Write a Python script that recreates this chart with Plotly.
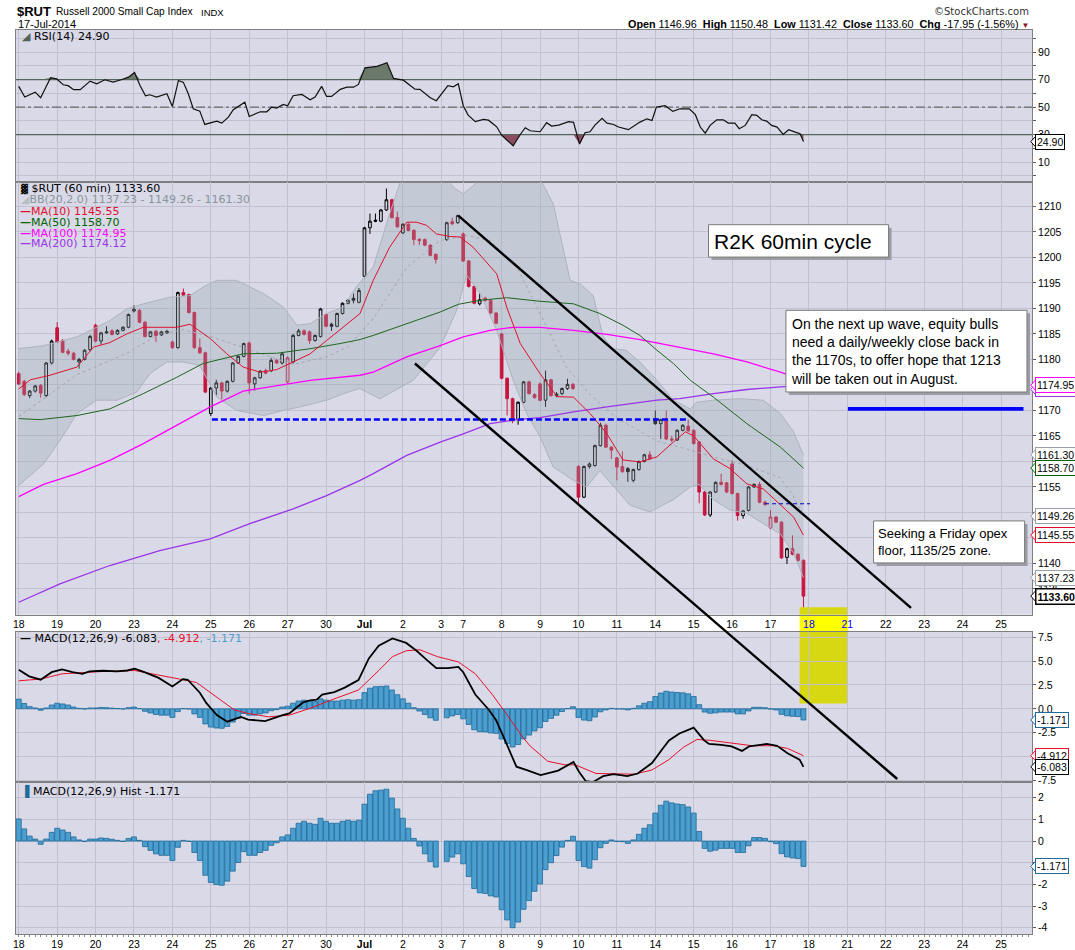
import numpy as np
import plotly.graph_objects as go

# ---------------------------------------------------------------- DATA
trade_days = ['18', '19', '20', '23', '24', '25', '26', '27', '30', 'Jul', '2', '3',
              '7', '8', '9', '10', '11', '14', '15', '16', '17']
bars_in_day = [7, 7, 7, 7, 7, 7, 7, 7, 7, 7, 7, 4, 7, 7, 7, 7, 7, 7, 7, 7, 7]
future_days = ['18', '21', '22', '23', '24', '25']

bar_open = [
    1177.2, 1175.7, 1172.9, 1173.8, 1174.9, 1172.9, 1179.3,
    1186.2, 1183.7, 1181.6, 1181.2, 1179.5, 1180.0, 1181.9,
    1186.7, 1183.6, 1185.2, 1185.6, 1185.0, 1185.7, 1186.3,
    1189.5, 1189.6, 1187.3, 1184.5, 1185.5, 1184.8, 1185.2,
    1183.4, 1182.3, 1193.1, 1192.7, 1189.2, 1182.3, 1181.3,
    1169.4, 1174.4, 1175.4, 1173.8, 1175.7, 1179.3, 1180.6,
    1183.2, 1175.2, 1176.4, 1177.8, 1177.8, 1179.8, 1179.3,
    1175.6, 1179.5, 1184.7, 1185.6, 1185.4, 1183.7, 1184.5,
    1188.8, 1186.9, 1186.5, 1189.0, 1191.0, 1192.0, 1191.2,
    1196.3, 1205.8, 1207.3, 1207.1, 1209.3, 1211.3, 1207.8,
    1204.8, 1206.5, 1205.3, 1203.5, 1203.5, 1202.4, 1200.6,
    None, 1203.5, 1207.0, 1206.8,
    1204.6, 1199.3, 1194.3, 1190.9, 1192.0, 1191.6, 1189.1,
    1185.0, 1176.3, 1172.3, 1168.2, 1171.6, 1175.6, 1173.1,
    1175.2, 1172.0, 1176.0, 1172.9, 1173.3, 1174.3, 1175.1,
    1159.0, 1153.0, 1159.0, 1159.2, 1163.1, 1167.1, 1162.8,
    1160.7, 1159.0, 1158.6, 1156.3, 1158.4, 1160.0, 1161.3,
    1168.4, 1167.4, 1168.2, 1164.4, 1164.2, 1166.1, 1166.9,
    1166.1, 1163.8, 1154.0, 1149.5, 1154.0, 1155.9, 1155.8,
    1159.5, 1153.7, 1149.4, 1150.4, 1155.0, 1155.5, 1152.0,
    1146.96, 1149.1, 1148.1, 1141.2, 1142.9, 1141.8, 1140.6,
]
bar_high = [
    1177.6, 1176.0, 1174.0, 1175.0, 1175.2, 1179.5, 1183.9,
    1187.3, 1184.0, 1182.1, 1181.5, 1180.3, 1182.0, 1184.8,
    1187.0, 1185.4, 1186.5, 1185.9, 1185.9, 1186.5, 1189.0,
    1190.6, 1189.9, 1187.5, 1185.6, 1185.8, 1185.6, 1185.8,
    1183.7, 1193.3, 1193.9, 1192.9, 1189.4, 1184.1, 1181.5,
    1174.6, 1176.0, 1175.6, 1175.9, 1179.5, 1180.8, 1183.3,
    1183.5, 1176.6, 1177.9, 1178.2, 1180.3, 1180.1, 1181.3,
    1180.6, 1185.0, 1186.0, 1185.9, 1185.7, 1184.9, 1190.1,
    1189.0, 1187.2, 1189.2, 1191.2, 1191.8, 1192.9, 1194.0,
    1206.0, 1208.6, 1208.6, 1209.5, 1213.5, 1211.5, 1209.0,
    1206.7, 1206.7, 1205.5, 1203.8, 1203.7, 1202.6, 1200.8,
    None, 1207.0, 1207.8, 1208.4,
    1204.9, 1199.5, 1194.5, 1192.9, 1192.3, 1191.8, 1189.3,
    1185.2, 1176.5, 1172.5, 1171.8, 1175.8, 1175.8, 1173.4,
    1175.5, 1177.8, 1176.2, 1173.6, 1174.5, 1176.2, 1175.4,
    1159.3, 1159.2, 1159.8, 1163.3, 1167.6, 1167.4, 1163.0,
    1160.9, 1162.0, 1158.9, 1158.6, 1160.2, 1161.5, 1162.0,
    1170.0, 1168.4, 1170.0, 1165.0, 1166.3, 1167.3, 1168.2,
    1166.3, 1164.0, 1154.2, 1154.2, 1156.1, 1157.6, 1156.0,
    1160.2, 1153.9, 1150.5, 1155.2, 1155.7, 1156.0, 1152.3,
    1150.48, 1149.3, 1148.3, 1143.1, 1145.5, 1142.0, 1140.8,
]
bar_low = [
    1175.0, 1172.8, 1172.4, 1173.5, 1172.5, 1172.6, 1179.0,
    1183.2, 1181.2, 1180.8, 1179.8, 1178.2, 1179.8, 1181.6,
    1183.3, 1182.9, 1185.0, 1184.7, 1184.8, 1185.5, 1186.1,
    1189.2, 1187.1, 1184.3, 1184.3, 1183.4, 1184.6, 1185.0,
    1182.1, 1182.1, 1192.4, 1189.0, 1182.1, 1181.1, 1173.4,
    1168.9, 1173.0, 1172.2, 1173.5, 1175.5, 1179.1, 1180.4,
    1173.3, 1173.9, 1176.2, 1177.1, 1177.5, 1179.1, 1179.0,
    1175.3, 1179.2, 1184.5, 1184.7, 1183.0, 1183.5, 1184.3,
    1186.3, 1185.6, 1186.3, 1188.8, 1190.8, 1191.0, 1191.0,
    1196.0, 1204.6, 1206.9, 1206.9, 1209.1, 1207.6, 1205.8,
    1204.6, 1205.1, 1202.4, 1202.4, 1202.2, 1200.2, 1198.8,
    None, 1203.2, 1206.3, 1206.6,
    1199.1, 1194.1, 1190.8, 1190.6, 1191.3, 1188.9, 1186.9,
    1176.1, 1169.0, 1167.5, 1167.2, 1171.4, 1173.1, 1172.3,
    1171.8, 1170.7, 1172.7, 1172.6, 1173.0, 1174.0, 1174.0,
    1151.7, 1152.8, 1158.6, 1159.0, 1162.9, 1162.6, 1160.5,
    1156.3, 1157.8, 1156.0, 1155.9, 1158.2, 1159.8, 1160.3,
    1167.2, 1164.4, 1164.2, 1163.8, 1164.0, 1165.9, 1165.8,
    1163.3, 1151.8, 1149.3, 1149.1, 1153.8, 1155.3, 1153.8,
    1153.5, 1148.4, 1148.8, 1150.2, 1154.8, 1151.8, 1151.3,
    1146.7, 1147.9, 1140.9, 1139.9, 1141.6, 1140.4, 1131.42,
]
bar_close = [
    1175.2, 1173.1, 1173.8, 1174.8, 1173.4, 1179.3, 1183.6,
    1183.4, 1181.4, 1181.2, 1180.0, 1180.0, 1181.8, 1184.5,
    1183.6, 1185.2, 1185.4, 1184.9, 1185.7, 1186.3, 1188.8,
    1189.8, 1187.3, 1184.5, 1185.4, 1184.7, 1185.4, 1185.5,
    1182.3, 1193.1, 1192.6, 1189.2, 1182.3, 1181.3, 1173.6,
    1174.4, 1175.4, 1173.8, 1175.7, 1179.3, 1180.6, 1183.1,
    1175.4, 1176.4, 1177.7, 1177.3, 1179.8, 1179.3, 1181.1,
    1180.3, 1184.7, 1185.6, 1184.9, 1183.7, 1184.7, 1189.9,
    1186.5, 1186.5, 1189.0, 1191.0, 1191.6, 1191.6, 1193.5,
    1205.8, 1207.1, 1207.1, 1209.3, 1211.3, 1207.8, 1206.0,
    1206.5, 1205.3, 1203.5, 1203.3, 1202.4, 1200.4, 1199.6,
    None, 1206.8, 1206.6, 1208.2,
    1199.3, 1194.3, 1191.0, 1191.7, 1191.6, 1189.1, 1187.1,
    1176.3, 1172.3, 1168.2, 1171.6, 1175.6, 1173.3, 1172.5,
    1172.0, 1176.0, 1172.9, 1173.2, 1174.3, 1175.1, 1174.3,
    1153.0, 1159.0, 1159.5, 1163.1, 1167.1, 1162.8, 1162.2,
    1158.9, 1158.0, 1158.0, 1158.4, 1160.0, 1161.3, 1160.5,
    1167.4, 1168.2, 1164.4, 1164.2, 1166.1, 1167.1, 1166.0,
    1163.5, 1154.0, 1149.5, 1154.0, 1155.9, 1155.5, 1154.0,
    1153.7, 1149.4, 1150.3, 1155.0, 1155.5, 1152.0, 1151.55,
    1149.1, 1148.1, 1141.1, 1142.9, 1141.8, 1140.6, 1133.60,
]

macd_hist = [
    1.02, 0.56, 0.23, 0.09, -0.15, 0.09, 0.40,
    0.59, 0.51, 0.40, 0.19, 0.05, -0.02, 0.09,
    0.09, 0.14, 0.12, 0.08, 0.03, -0.02, 0.12,
    0.19, 0.03, -0.26, -0.43, -0.59, -0.66, -0.66,
    -0.90, -0.29, 0.03, -0.02, -0.53, -0.90, -1.58,
    -1.91, -2.01, -2.04, -1.85, -1.39, -0.99, -0.49,
    -0.66, -0.66, -0.53, -0.43, -0.20, -0.08, 0.19,
    0.28, 0.59, 0.82, 0.91, 0.82, 0.77, 1.05,
    0.91, 0.82, 0.82, 0.91, 0.96, 0.91, 0.96,
    1.70, 2.16, 2.32, 2.35, 2.39, 1.98, 1.48,
    1.05, 0.59, 0.12, -0.23, -0.59, -0.94, -1.20,
    None, -0.94, -0.74, -0.59,
    -1.05, -1.64, -2.19, -2.39, -2.42, -2.53, -2.58,
    -3.17, -3.64, -4.00, -3.74, -3.15, -2.75, -2.32,
    -1.98, -1.32, -1.00, -0.67, -0.28, 0.03, 0.22,
    -0.90, -1.18, -1.25, -0.86, -0.31, -0.11, 0.05,
    -0.02, -0.03, -0.11, 0.05, 0.31, 0.59, 0.75,
    1.29, 1.65, 1.84, 1.76, 1.71, 1.68, 1.57,
    1.29, 0.44, -0.34, -0.47, -0.42, -0.34, -0.34,
    -0.34, -0.53, -0.53, -0.22, 0.16, 0.16, 0.12,
    -0.03, -0.12, -0.58, -0.73, -0.78, -0.81, -1.171,
]

# indicator lines as (bar position, value)
rsi_pts = [(0, 65.1), (1.1, 57.3), (3.0, 60.9), (4.0, 56.8), (5.8, 71.4), (6.9, 70.6), (8.1, 66.3),
           (9.0, 65.6), (10, 62.7), (11.2, 62.7), (13, 68.9), (14.2, 67.0), (15.7, 69.9), (17.2, 68.2),
           (18.8, 70.1), (20, 71.8), (21.1, 75.2), (22.1, 65.8), (23.1, 58.3), (23.9, 59.0), (25.1, 57.3),
           (27, 59.7), (28, 50.5), (29.1, 69.4), (30, 68.0), (30.9, 59.7), (31.8, 48.8), (33, 47.1),
           (33.9, 37.4), (36.1, 39.8), (37, 38.4), (38.2, 42.7), (39.1, 48.1), (41.2, 53.6), (42, 43.2),
           (44, 46.6), (45.2, 46.6), (46.1, 50.0), (47, 49.3), (48.2, 52.0), (49, 51.0), (50, 58.3),
           (51.6, 59.2), (53.1, 55.4), (54, 57.3), (55.2, 65.1), (56.1, 57.8), (57, 57.8), (58.6, 62.9),
           (59.8, 64.5), (61, 64.5), (61.9, 66.5), (63.1, 78.6), (65.3, 79.6), (67.1, 82.3), (68.3, 70.9),
           (70.1, 69.6), (72.2, 63.1), (73.1, 62.9), (75, 56.8), (76.1, 54.7), (77.1, 60.0), (78.2, 65.6),
           (79.2, 64.8), (80.1, 67.0), (81.0, 51.0), (81.9, 44.2), (83.2, 39.4), (84.7, 41.1), (85.6, 40.5),
           (87.1, 35.7), (88, 29.6), (88.9, 26.0), (90.1, 21.9), (91.4, 30.1), (92.3, 35.0), (93.2, 32.8),
           (95, 32.1), (96.2, 38.7), (97.1, 36.2), (98.4, 36.9), (100.2, 39.4), (101.1, 38.9), (102.2, 23.1),
           (103.2, 31.4), (104.1, 32.1), (105.0, 36.9), (106.3, 41.8), (107.2, 38.4), (108.4, 37.4),
           (109.3, 35.5), (111.1, 33.6), (113.2, 39.1), (114.5, 41.5), (115.4, 40.3), (116.2, 50.0),
           (117.8, 51.0), (119.2, 46.9), (120.5, 48.8), (122.2, 48.8), (123.3, 44.5), (124.2, 35.5),
           (125.1, 31.1), (126, 36.7), (127.2, 40.8), (128.4, 40.8), (129.3, 38.4), (130.5, 38.4),
           (131.3, 34.3), (132.4, 36.7), (133.6, 44.5), (134.5, 44.0), (135.4, 40.8), (136.3, 39.8),
           (137.2, 36.7), (138.2, 35.5), (139.3, 30.1), (140.3, 33.6), (141.5, 31.8), (142.4, 30.6),
           (143, 24.9)]

macd_pts = [(0, 4.10), (1.9, 3.41), (4.0, 3.05), (6.0, 3.84), (7.9, 4.14), (9.8, 3.84), (11.6, 3.67),
            (12.9, 3.92), (15.4, 3.99), (17.9, 3.92), (19.8, 4.02), (21.1, 4.21), (22.9, 3.84), (25.5, 3.24),
            (28.0, 2.34), (29.9, 3.12), (30.8, 3.05), (33.0, 1.69), (34.2, 0.60), (36.1, -0.66), (38.0, -1.35),
            (40.5, -0.84), (41.8, -1.13), (44.9, -1.28), (48.1, -0.66), (49.3, -0.48), (51.8, 0.67),
            (53.1, 0.89), (54.3, 0.96), (55.3, 1.50), (57.5, 1.75), (59.4, 2.22), (61.9, 3.02), (63.8, 5.29),
            (65.6, 6.62), (68.1, 7.38), (70.6, 6.91), (72.5, 6.09), (74.4, 5.11), (76.1, 4.27), (78.2, 4.27),
            (80.1, 4.39), (81.0, 3.84), (83.2, 1.50), (85.7, -0.12), (87.0, -1.20), (88.8, -3.55),
            (90.7, -6.07), (92.6, -6.43), (95.1, -6.95), (98.3, -6.48), (101.1, -5.57), (102.1, -6.59),
            (103.3, -7.57), (104.6, -7.69), (106.5, -7.06), (108.4, -6.85), (110.9, -7.06), (112.8, -6.78),
            (115.4, -5.68), (117.3, -4.22), (118.5, -3.31), (120.4, -2.59), (123.0, -1.97), (124.9, -3.31),
            (125.8, -3.68), (128.0, -3.79), (129.9, -3.94), (131.8, -4.41), (133.1, -3.94), (136.3, -3.68),
            (138.2, -3.87), (140.1, -4.66), (142.3, -5.32), (143, -6.083)]

signal_pts = [(0, 2.94), (4.0, 3.12), (7.9, 3.67), (12.3, 3.84), (15.4, 3.92), (21.1, 4.02), (25.5, 3.56),
              (29.3, 3.12), (32.4, 2.76), (35.5, 1.50), (39.3, -0.12), (41.8, -0.48), (45.5, -0.84),
              (49.3, -0.66), (53.1, 0.06), (56.8, 0.89), (61.9, 1.97), (65.6, 4.02), (68.1, 5.47),
              (70.6, 6.09), (73.1, 6.19), (76.3, 5.47), (80.1, 4.92), (83.2, 3.67), (86.3, 1.50),
              (88.8, -0.48), (91.9, -3.01), (93.2, -3.90), (95.0, -4.85), (96.4, -5.50), (99.5, -5.87),
              (101.4, -5.87), (105.2, -6.78), (109.0, -6.85), (112.2, -6.85), (115.4, -6.41), (118.5, -5.32),
              (121.1, -4.04), (123.6, -3.21), (126.1, -3.31), (129.9, -3.57), (133.7, -3.87), (137.5, -3.87),
              (140.1, -4.15), (143, -4.912)]

ma10_pts = [(0, 1174.2), (2.1, 1176.0), (5.7, 1176.9), (10.6, 1178.5), (13.6, 1182.4), (16.6, 1183.3),
            (19.7, 1185.0), (22.7, 1186.3), (25.7, 1186.3), (28.8, 1186.3), (31.2, 1186.9), (34.9, 1184.1),
            (37.9, 1181.1), (40.9, 1178.5), (44, 1177.5), (47, 1178.0), (50, 1179.5), (53.1, 1181.1),
            (56.1, 1183.7), (59.2, 1186.3), (62.2, 1189.0), (64.6, 1195.5), (67.6, 1202.0), (70.7, 1206.9),
            (72.5, 1206.9), (74.3, 1206.3), (76.1, 1204.6), (78.6, 1204.1), (80.4, 1204.0), (82.8, 1202.0),
            (87.1, 1196.8), (89.0, 1190.0), (91.4, 1183.1), (95, 1177.2), (98.1, 1172.7), (101.1, 1172.6),
            (104.2, 1169.3), (107.2, 1165.4), (110.1, 1160.3), (113.2, 1159.9), (116.3, 1160.9),
            (119.3, 1163.8), (121.5, 1165.8), (123, 1165.0), (126.6, 1160.5), (129.6, 1158.6),
            (132.7, 1155.6), (135.7, 1154.6), (138.8, 1151.4), (141.2, 1149.1), (143, 1145.55)]

ma50_pts = [(0, 1168.4), (3.9, 1168.2), (10.6, 1169.0), (16.6, 1170.3), (22.7, 1173.3), (28.8, 1176.5),
            (33.6, 1179.2), (40.9, 1181.1), (47, 1181.2), (53.1, 1182.1), (58.5, 1183.1), (62.2, 1183.9),
            (64.6, 1184.7), (70.7, 1187.0), (76.8, 1189.3), (80.1, 1190.8), (84.1, 1191.6), (88.9, 1192.1),
            (95, 1191.4), (101.1, 1190.9), (105.9, 1189.0), (110.1, 1186.7), (113.2, 1184.7),
            (116.3, 1181.8), (119.3, 1179.2), (122.4, 1175.9), (126.6, 1172.6), (132.7, 1167.4),
            (138.8, 1162.8), (143, 1158.70)]

ma100_pts = [(0, 1153.1), (4.5, 1155.5), (10.6, 1157.6), (16.6, 1160.2), (22.7, 1163.5), (28.8, 1167.1),
             (34.9, 1170.7), (40.9, 1173.8), (47, 1174.9), (53.1, 1175.9), (62.2, 1176.9), (64.6, 1177.5),
             (70.7, 1180.5), (76.8, 1182.7), (81, 1184.4), (85.9, 1185.7), (90.1, 1186.3), (95, 1186.3),
             (101.1, 1185.7), (107.2, 1184.9), (113.2, 1183.9), (120.5, 1182.4), (126.6, 1181.1),
             (132.7, 1179.5), (138.8, 1177.5), (143, 1175.9)]

ma200_pts = [(0, 1132.4), (7.5, 1136.0), (16.6, 1139.6), (25.7, 1142.5), (34.9, 1144.8), (42.1, 1147.8),
             (50, 1150.7), (56.1, 1153.3), (62.2, 1156.3), (64.6, 1157.6), (70.7, 1161.2), (76.8, 1163.8),
             (81, 1165.4), (85.9, 1167.4), (90.8, 1168.2), (95, 1168.6), (101.1, 1169.7), (107.2, 1170.7),
             (116.3, 1172.0), (120.5, 1172.3), (126.6, 1173.3), (132.7, 1174.1), (138.8, 1174.6),
             (143, 1174.9)]

bb_upper_pts = [(0, 1182.1), (4.5, 1182.7), (10.6, 1184.4), (16.6, 1187.6), (19.7, 1189.9), (22.7, 1190.9),
                (27.6, 1192.2), (31.2, 1192.5), (33.6, 1194.2), (36.1, 1195.5), (39.7, 1195.5), (44.6, 1192.9),
                (48.2, 1190.3), (50.7, 1186.7), (53.1, 1187.0), (56.1, 1189.0), (59.2, 1190.3), (61.5, 1194.2),
                (64.6, 1198.1), (67.6, 1208.6), (69.4, 1214.4), (70.7, 1216.5), (76.8, 1216.5), (79.5, 1213.5),
                (81, 1212.5), (82.8, 1214.0), (85, 1216.5), (94, 1216.5), (95.5, 1214.4), (97.4, 1210.5),
                (100.5, 1195.5), (102.3, 1194.8), (104.7, 1192.5), (106.5, 1184.4), (108.3, 1182.1),
                (110.7, 1181.8), (113.2, 1179.5), (116.3, 1175.9), (119.3, 1172.0), (122.4, 1170.3),
                (123.5, 1171.6), (126.6, 1172.0), (131.5, 1172.3), (135.7, 1172.0), (138.8, 1169.4),
                (141.2, 1165.8), (143, 1161.30)]

bb_lower_pts = [(0, 1155.3), (4.5, 1159.5), (7.5, 1164.1), (10.6, 1169.4), (14.2, 1172.0), (17.9, 1172.0),
                (21.5, 1173.6), (23.9, 1177.2), (27, 1179.5), (30, 1179.5), (33, 1178.8), (36.1, 1172.6),
                (39.7, 1170.0), (44.6, 1169.0), (48.2, 1170.0), (51.3, 1170.7), (56.1, 1172.0), (59.2, 1173.3),
                (62.1, 1174.3), (65.8, 1172.3), (71.9, 1175.9), (76.8, 1182.4), (79.8, 1189.6), (81.6, 1196.5),
                (84.1, 1192.9), (87.1, 1185.7), (90.1, 1175.9), (92.6, 1169.3), (95, 1164.8), (97.4, 1158.9),
                (101.1, 1156.3), (103.5, 1155.0), (105.9, 1158.2), (108.3, 1155.3), (111.4, 1151.4),
                (115, 1150.1), (119.3, 1152.5), (122.4, 1155.0), (124, 1155.5), (126.6, 1152.5),
                (129.6, 1150.5), (132.7, 1149.8), (135.7, 1147.8), (138.8, 1145.8), (141.2, 1142.0),
                (143, 1137.23)]

bb_mid_pts = [(0, 1168.8), (10.6, 1177.0), (19.7, 1181.2), (25.7, 1185.0), (30, 1185.8), (34.9, 1184.5),
              (39.7, 1182.8), (44.6, 1181.0), (50, 1179.0), (56.1, 1180.5), (60, 1182.5), (64.6, 1188.0),
              (70.7, 1198.0), (76.8, 1203.3), (81.6, 1204.3), (85.9, 1203.3), (90.8, 1198.1), (95, 1189.0),
              (99.8, 1178.5), (104.2, 1173.0), (109, 1168.5), (116.3, 1164.0), (120.5, 1162.8),
              (126.6, 1160.9), (132.7, 1159.2), (138.8, 1156.8), (141, 1153.5), (143, 1149.26)]

# user-drawn annotations (bar position / value)
support_level = 1168.2          # blue dashed
support_span = (35.2, 122.1)
minor_level = 1151.7            # short blue dashed
minor_span = (136.0, 144.2)
target_level = 1170.3           # thick blue
target_span = (151.1, 183.1)
channel_upper = [(80.1, 1208.2), (162.6, 1131.3)]          # price coords
channel_lower_start = (72.2, 1179.2)                        # price coords
channel_lower_end = (160.1, -7.36)                          # MACD coords
zone_span = (142.3, 151.1)
zone_price_top = 1131.4
zone_macd_bottom = 0.57

# ---------------------------------------------------------------- GEOMETRY / STYLE
W, H = 1075, 950
L_PX, R_PX, T_PX, B_PX = 16.0, 1031.7, 29.5, 934.0


def pxx(x):
    return (x - L_PX) / (R_PX - L_PX)


def pxy(y):
    return (B_PX - y) / (B_PX - T_PX)


DOM_RSI = [pxy(182), 1.0]
DOM_PRICE = [pxy(614.5), pxy(182)]
DOM_MACD = [pxy(782), pxy(631.4)]
DOM_HIST = [0.0, pxy(782)]

X_RANGE = [-0.5, 184.65]
RSI_RNG = [-4.76, 106.1]
PRICE_RNG = [1129.96, 1214.70]
MACD_RNG = [-7.68, 8.10]
HIST_RNG = [-4.29, 2.72]


def xpaper(i):
    return (i - X_RANGE[0]) / (X_RANGE[1] - X_RANGE[0])


def ypaper(v, dom, rng):
    return dom[0] + (v - rng[0]) / (rng[1] - rng[0]) * (dom[1] - dom[0])


BG = '#d9d9e7'
GRID = '#c1c1d2'
BORDER = '#7f7f7f'
RED = '#c8153e'
MA10_C = '#e0102c'
MA50_C = '#1d651d'
MA100_C = '#ff00ff'
MA200_C = '#9a35e8'
BB_LINE = '#adb4bc'
BB_FILL = 'rgba(150,170,172,0.30)'
HIST_FILL = '#4b9fd0'
HIST_LINE = '#1f6a98'
YEL_PANEL = '#d8d812'
YEL_STRIP = '#ffff00'

ARIAL = 'Liberation Sans, Arial, sans-serif'
TICK_FONT = dict(family=ARIAL, size=10.5, color='#000000')
LEG_FAMILY = 'DejaVu Sans, Verdana, sans-serif'

fig = go.Figure()


def unzip(pts):
    return [p[0] for p in pts], [p[1] for p in pts]


# ---------------------------------------------------------------- RSI panel
rx, rv = unzip(rsi_pts)
rv_arr = np.array(rv)
fig.add_trace(go.Scatter(x=rx, y=[70] * len(rx), mode='lines', line=dict(width=0),
                         xaxis='x', yaxis='y', hoverinfo='skip', showlegend=False))
fig.add_trace(go.Scatter(x=rx, y=np.maximum(rv_arr, 70), mode='lines', line=dict(width=0),
                         fill='tonexty', fillcolor='#6b796b', xaxis='x', yaxis='y',
                         hoverinfo='skip', showlegend=False))
fig.add_trace(go.Scatter(x=rx, y=[30] * len(rx), mode='lines', line=dict(width=0),
                         xaxis='x', yaxis='y', hoverinfo='skip', showlegend=False))
fig.add_trace(go.Scatter(x=rx, y=np.minimum(rv_arr, 30), mode='lines', line=dict(width=0),
                         fill='tonexty', fillcolor='#8c4c60', xaxis='x', yaxis='y',
                         hoverinfo='skip', showlegend=False))
for lvl, dash, col in [(70, 'solid', '#56655a'), (30, 'solid', '#56655a'), (50, 'dashdot', '#6a6a6a')]:
    fig.add_trace(go.Scatter(x=X_RANGE, y=[lvl, lvl], mode='lines',
                             line=dict(color=col, width=1.3, dash=dash),
                             xaxis='x', yaxis='y', hoverinfo='skip', showlegend=False))
fig.add_trace(go.Scatter(x=rx, y=rv, mode='lines', line=dict(color='#101010', width=1.2),
                         xaxis='x', yaxis='y', hoverinfo='skip', showlegend=False))

# ---------------------------------------------------------------- Price panel
ux, uv = unzip(bb_upper_pts)
lx, lv = unzip(bb_lower_pts)
fig.add_trace(go.Scatter(x=ux, y=uv, mode='lines', line=dict(color=BB_LINE, width=1),
                         xaxis='x2', yaxis='y2', hoverinfo='skip', showlegend=False))
fig.add_trace(go.Scatter(x=lx, y=lv, mode='lines', line=dict(color=BB_LINE, width=1),
                         fill='tonexty', fillcolor=BB_FILL,
                         xaxis='x2', yaxis='y2', hoverinfo='skip', showlegend=False))
mx, mv = unzip(bb_mid_pts)
fig.add_trace(go.Scatter(x=mx, y=mv, mode='lines', line=dict(color='#a3a7b3', width=1, dash='dot'),
                         xaxis='x2', yaxis='y2', hoverinfo='skip', showlegend=False))

for pts, col, wd in [(ma200_pts, MA200_C, 1.3), (ma100_pts, MA100_C, 1.3),
                     (ma50_pts, MA50_C, 1.0)]:
    px_, pv_ = unzip(pts)
    fig.add_trace(go.Scatter(x=px_, y=pv_, mode='lines', line=dict(color=col, width=wd),
                             xaxis='x2', yaxis='y2', hoverinfo='skip', showlegend=False))

# candles: hollow when close > open; red when close below previous close
groups = {(True, 'k'): [], (True, 'r'): [], (False, 'k'): [], (False, 'r'): []}
prev_close = None
for i in range(len(bar_close)):
    c = bar_close[i]
    if c is None:
        continue
    o = bar_open[i]
    hollow = c > o
    col = 'r' if (prev_close is None or c < prev_close) else 'k'
    groups[(hollow, col)].append(i)
    prev_close = c

for (hollow, col), idx in groups.items():
    if not idx:
        continue
    color = RED if col == 'r' else '#000000'
    fill = 'rgba(0,0,0,0)' if hollow else color
    style = dict(line=dict(color=color, width=1), fillcolor=fill)
    fig.add_trace(go.Candlestick(
        x=idx, open=[bar_open[i] for i in idx], high=[bar_high[i] for i in idx],
        low=[bar_low[i] for i in idx], close=[bar_close[i] for i in idx],
        increasing=style, decreasing=style, whiskerwidth=0,
        xaxis='x2', yaxis='y2', hoverinfo='skip', showlegend=False))

px_, pv_ = unzip(ma10_pts)
fig.add_trace(go.Scatter(x=px_, y=pv_, mode='lines', line=dict(color=MA10_C, width=1),
                         xaxis='x2', yaxis='y2', hoverinfo='skip', showlegend=False))

# ---------------------------------------------------------------- MACD panel
bar_x = list(range(len(macd_hist)))
fig.add_trace(go.Bar(x=bar_x, y=macd_hist, width=0.9,
                     marker=dict(color=HIST_FILL, line=dict(color=HIST_LINE, width=0.8)),
                     xaxis='x3', yaxis='y3', hoverinfo='skip', showlegend=False))
sx, sv = unzip(signal_pts)
fig.add_trace(go.Scatter(x=sx, y=sv, mode='lines', line=dict(color='#e8102a', width=1),
                         xaxis='x3', yaxis='y3', hoverinfo='skip', showlegend=False))
qx, qv = unzip(macd_pts)
fig.add_trace(go.Scatter(x=qx, y=qv, mode='lines', line=dict(color='#000000', width=1.8),
                         xaxis='x3', yaxis='y3', hoverinfo='skip', showlegend=False))

# ---------------------------------------------------------------- Histogram panel
fig.add_trace(go.Bar(x=bar_x, y=macd_hist, width=0.9,
                     marker=dict(color=HIST_FILL, line=dict(color=HIST_LINE, width=0.8)),
                     xaxis='x4', yaxis='y4', hoverinfo='skip', showlegend=False))

# ---------------------------------------------------------------- axes
starts = np.concatenate([[0], np.cumsum(bars_in_day)[:-1]]).tolist()
n_bars = int(sum(bars_in_day))
future_starts = [n_bars + 7 * k for k in range(len(future_days))]
tick_pos = starts + future_starts


def lab(t, blue=False):
    if t == 'Jul':
        return '<b>Jul</b>'
    if blue:
        return "<span style='color:#0000ff'>%s</span>" % t
    return t


strip_text = [lab(t) for t in trade_days] + [lab(t, blue=(k < 2)) for k, t in enumerate(future_days)]
bottom_text = [lab(t) for t in trade_days] + [lab(t) for t in future_days]

xbase = dict(range=X_RANGE, domain=[0, 1], tickmode='array', tickvals=tick_pos,
             showgrid=True, gridcolor=GRID, gridwidth=1, zeroline=False,
             showline=True, linecolor=BORDER, linewidth=1, mirror=True,
             ticks='', fixedrange=True, tickfont=TICK_FONT, automargin=False)
ybase = dict(side='right', showgrid=True, gridcolor=GRID, gridwidth=1, zeroline=False,
             showline=True, linecolor=BORDER, linewidth=1, mirror=True,
             ticks='outside', ticklen=3, tickcolor='#606060', fixedrange=True,
             tickfont=TICK_FONT, automargin=False)

fig.update_layout(
    template='none',
    xaxis=dict(xbase, anchor='y', showticklabels=False),
    xaxis2=dict(xbase, anchor='y2', showticklabels=True, ticktext=strip_text,
                rangeslider=dict(visible=False)),
    xaxis3=dict(xbase, anchor='y3', showticklabels=False),
    xaxis4=dict(xbase, anchor='y4', showticklabels=True, ticktext=bottom_text,
                minor=dict(tickmode='linear', tick0=0, dtick=1, ticks='outside',
                           ticklen=2, tickcolor='#8a8a8a', showgrid=False)),
    yaxis=dict(ybase, anchor='x', domain=DOM_RSI, range=RSI_RNG,
               tickmode='array', tickvals=list(range(0, 101, 10)),
               ticktext=['', '10', '', '30', '', '50', '', '70', '', '90', '']),
    yaxis2=dict(ybase, anchor='x2', domain=DOM_PRICE, range=PRICE_RNG,
                tickmode='array', tickvals=list(range(1135, 1211, 5)),
                ticktext=[str(v) for v in range(1135, 1211, 5)]),
    yaxis3=dict(ybase, anchor='x3', domain=DOM_MACD, range=MACD_RNG,
                tickmode='array', tickvals=[-7.5, -5, -2.5, 0, 2.5, 5, 7.5],
                ticktext=['-7.5', '', '-2.5', '0.0', '2.5', '5.0', '7.5']),
    yaxis4=dict(ybase, anchor='x4', domain=DOM_HIST, range=HIST_RNG,
                tickmode='array', tickvals=[-4, -3, -2, -1, 0, 1, 2],
                ticktext=['-4', '-3', '-2', '', '0', '1', '2']),
)

# ---------------------------------------------------------------- shapes
shapes = []
# yellow target zone
shapes.append(dict(type='rect', xref='x2', yref='y2', x0=zone_span[0], x1=zone_span[1],
                   y0=PRICE_RNG[0], y1=zone_price_top, fillcolor=YEL_PANEL, line=dict(width=0),
                   layer='below'))
shapes.append(dict(type='rect', xref='paper', yref='paper', x0=xpaper(zone_span[0]), x1=xpaper(zone_span[1]),
                   y0=DOM_MACD[1], y1=DOM_PRICE[0], fillcolor=YEL_STRIP, line=dict(width=0),
                   layer='below'))
shapes.append(dict(type='rect', xref='x3', yref='y3', x0=zone_span[0], x1=zone_span[1],
                   y0=zone_macd_bottom, y1=MACD_RNG[1], fillcolor=YEL_PANEL, line=dict(width=0),
                   layer='below'))
# horizontal blue lines
shapes.append(dict(type='line', xref='x2', yref='y2', x0=support_span[0], x1=support_span[1],
                   y0=support_level, y1=support_level,
                   line=dict(color='#0000ff', width=2.5, dash='6px,3px'), layer='above'))
shapes.append(dict(type='line', xref='x2', yref='y2', x0=minor_span[0], x1=minor_span[1],
                   y0=minor_level, y1=minor_level,
                   line=dict(color='#0000cc', width=1, dash='4px,3px'), layer='above'))
shapes.append(dict(type='line', xref='x2', yref='y2', x0=target_span[0], x1=target_span[1],
                   y0=target_level, y1=target_level,
                   line=dict(color='#0000ff', width=3.6), layer='above'))
# channel lines
shapes.append(dict(type='line', xref='x2', yref='y2',
                   x0=channel_upper[0][0], y0=channel_upper[0][1],
                   x1=channel_upper[1][0], y1=channel_upper[1][1],
                   line=dict(color='#000000', width=2.4), layer='above'))
shapes.append(dict(type='line', xref='paper', yref='paper',
                   x0=xpaper(channel_lower_start[0]), y0=ypaper(channel_lower_start[1], DOM_PRICE, PRICE_RNG),
                   x1=xpaper(channel_lower_end[0]), y1=ypaper(channel_lower_end[1], DOM_MACD, MACD_RNG),
                   line=dict(color='#000000', width=2.4), layer='above'))


def text_box(x0, y0, x1, y1):
    shapes.append(dict(type='rect', xref='paper', yref='paper',
                       x0=pxx(x0 + 3), x1=pxx(x1 + 3), y0=pxy(y1 + 3), y1=pxy(y0 + 3),
                       fillcolor='#9c9ca4', line=dict(width=0), layer='above'))
    shapes.append(dict(type='rect', xref='paper', yref='paper',
                       x0=pxx(x0), x1=pxx(x1), y0=pxy(y1), y1=pxy(y0),
                       fillcolor='#ffffff', line=dict(color='#7a7a7a', width=1), layer='above'))


text_box(708.3, 224.3, 888.3, 256.7)
text_box(785.7, 310.0, 1026.7, 391.7)
text_box(873.3, 520.7, 1024.3, 562.7)

# ---------------------------------------------------------------- annotations
ann = []


def txt(x, y, s, size=11, family=LEG_FAMILY, color='#000000', xanchor='left', **kw):
    ann.append(dict(xref='paper', yref='paper', x=pxx(x), y=pxy(y), text=s, showarrow=False,
                    xanchor=xanchor, yanchor='middle', align='left',
                    font=dict(family=family, size=size, color=color), **kw))


# header
txt(15, 10.5, "<b>$RUT</b>", size=13, family=ARIAL)
txt(54, 11, "Russell 2000 Small Cap Index", size=10.2, family=ARIAL)
txt(199, 11.5, "INDX", size=9.5, family=ARIAL)
txt(16, 23.5, "17-Jul-2014", size=11, family=ARIAL)
txt(1031, 10.5, "\u00a9StockCharts.com", size=10, family='DejaVu Sans', color='#333333', xanchor='right')
txt(1031, 23.5, "<b>Open</b> 1146.96  <b>High</b> 1150.48  <b>Low</b> 1131.42  <b>Close</b> 1133.60  "
                "<b>Chg</b> -17.95 (-1.56%) <span style='color:#8b1a1a;font-size:8px'>\u25bc</span>",
    size=10.8, family=ARIAL, xanchor='right')

# panel legends
txt(20, 36, "<span style='color:#55625a'>\u25e2</span> RSI(14) 24.90", size=11)
txt(19, 188.3, "<span style='font-size:9px'>\u2593</span> $RUT (60 min) 1133.60", size=11)
txt(19, 199.4, "<span style='color:#b9bec4'>\u25e2</span>BB(20,2.0) 1137.23 - 1149.26 - 1161.30",
    size=11, color='#8a949c')
txt(18, 210.7, "<b>\u2014</b>MA(10) 1145.55", size=11, color=MA10_C)
txt(18, 221.7, "<b>\u2014</b>MA(50) 1158.70", size=11, color='#006400')
txt(18, 232.7, "<b>\u2014</b>MA(100) 1174.95", size=11, color=MA100_C)
txt(18, 243.5, "<b>\u2014</b>MA(200) 1174.12", size=11, color=MA200_C)
txt(18, 638.3, "<b>\u2014</b> MACD(12,26,9) -6.083<span style='color:#e8102a'>, -4.912</span>"
               "<span style='color:#4b9fd0'>, -1.171</span>", size=11)
txt(19, 790.5, "<span style='color:#1f6a98'>\u2590</span> MACD(12,26,9) Hist -1.171", size=11)

# text boxes
txt(712, 241, "R2K 60min cycle", size=21, family=ARIAL)
txt(789, 351, "On the next up wave, equity bulls<br>need a daily/weekly close back in<br>"
              "the 1170s, to offer hope that 1213<br>will be taken out in August.", size=14, family=ARIAL)
txt(876, 542, "Seeking a Friday opex<br>floor, 1135/25 zone.", size=13, family=ARIAL)


# value tags on the right axis (box + small pointer)
def tag(yref, val, s, color, dom, rng, bold=False, bw=1):
    yp = ypaper(val, dom, rng)
    hh = 5.5 / (B_PX - T_PX)
    shapes.append(dict(type='path', xref='paper', yref='paper',
                       path='M %f,%f L %f,%f L %f,%f Z' % (pxx(1030.5), yp, pxx(1035.5), yp + hh,
                                                          pxx(1035.5), yp - hh),
                       fillcolor='#ffffff', line=dict(color=color, width=1), layer='above'))
    ann.append(dict(xref='paper', yref='paper', x=pxx(1034.5), y=yp,
                    text=('<b>%s</b>' % s) if bold else s, showarrow=False,
                    xanchor='left', yanchor='middle',
                    font=dict(family=ARIAL, size=10.5, color='#000000'),
                    bgcolor='#ffffff', bordercolor=color, borderwidth=bw, borderpad=1))


tag('y', 24.90, '24.90', '#000000', DOM_RSI, RSI_RNG)
tag('y2', 1174.12, '1174.12', MA200_C, DOM_PRICE, PRICE_RNG)
tag('y2', 1174.95, '1174.95', MA100_C, DOM_PRICE, PRICE_RNG)
tag('y2', 1161.30, '1161.30', '#9aa0a8', DOM_PRICE, PRICE_RNG)
tag('y2', 1158.70, '1158.70', '#006400', DOM_PRICE, PRICE_RNG)
tag('y2', 1149.26, '1149.26', '#9aa0a8', DOM_PRICE, PRICE_RNG)
tag('y2', 1145.55, '1145.55', MA10_C, DOM_PRICE, PRICE_RNG)
tag('y2', 1137.23, '1137.23', '#9aa0a8', DOM_PRICE, PRICE_RNG)
tag('y2', 1133.60, '1133.60', '#000000', DOM_PRICE, PRICE_RNG, bold=True, bw=1.5)
tag('y3', -1.171, '-1.171', HIST_LINE, DOM_MACD, MACD_RNG)
tag('y3', -4.912, '-4.912', '#e8102a', DOM_MACD, MACD_RNG)
tag('y3', -6.083, '-6.083', '#000000', DOM_MACD, MACD_RNG)
tag('y4', -1.171, '-1.171', HIST_LINE, DOM_HIST, HIST_RNG)

fig.update_layout(shapes=shapes, annotations=ann)

fig.update_layout(
    width=W, height=H, autosize=False,
    margin=dict(l=L_PX, r=W - R_PX, t=T_PX, b=H - B_PX, pad=0),
    paper_bgcolor='#ffffff', plot_bgcolor=BG,
    showlegend=False, bargap=0.1, barmode='overlay',
    font=dict(family=ARIAL, size=11, color='#000000'),
    hovermode=False,
)

fig.write_html("out.html", config={'displayModeBar': False, 'staticPlot': True},
               post_script="document.body.style.margin='0';")
